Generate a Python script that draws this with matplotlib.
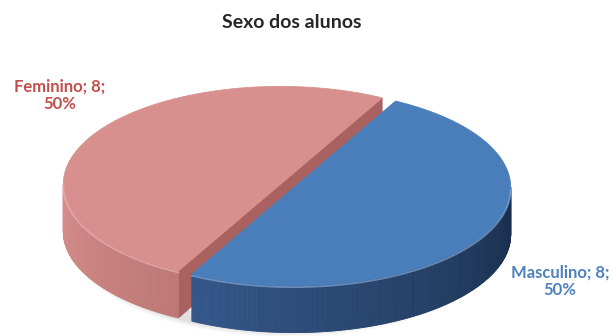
import numpy as np
import matplotlib.pyplot as plt
from matplotlib.patches import Polygon
from matplotlib.collections import PolyCollection

titulo = 'Sexo dos alunos'
categorias = ['Masculino', 'Feminino']
valores = [8, 8]

cor_topo = ['#4a7ebb', '#d8908e']
cor_lado_claro = [(0.28, 0.46, 0.72), (0.85, 0.57, 0.56)]
cor_lado_escuro = [(0.10, 0.18, 0.30), (0.60, 0.34, 0.33)]
cor_corte = ['#2c4d7a', '#a9625f']
cor_brilho = ['#8fb8ea', '#efb9b7']
cor_texto = ['#4f81bd', '#c0504d']
pos_rotulo = [(560, 281), (60, 95)]

# geometria da pizza (em pixels da figura)
cx, cy, rx, ry, prof = 287, 186, 217, 98, 47
inicio = 62.0
explode = 0.035

plt.rcParams['font.family'] = ['Lato', 'DejaVu Sans']

fig = plt.figure(figsize=(6.13, 3.36), dpi=100)
ax = fig.add_axes([0, 0, 1, 1])
ax.set_xlim(0, 613)
ax.set_ylim(336, 0)
ax.axis('off')


def pt(t, ox, oy, z=0.0):
    """ponto da borda no angulo t (graus), deslocado por ox, oy e pela altura z"""
    r = np.radians(t)
    return cx + ox + rx * np.cos(r), cy + oy - ry * np.sin(r) + z


total = sum(valores)
fatias = []
a = inicio
for i, v in enumerate(valores):
    ang = 360.0 * v / total
    a0, a1 = a, a - ang  # sentido horario
    meio = np.radians((a0 + a1) / 2)
    ox = explode * rx * np.cos(meio)
    oy = -explode * ry * np.sin(meio)
    fatias.append((i, a1, a0, meio, ox, oy))
    a = a1

# sombra suave sob a pizza
t = np.linspace(180, 360, 200)
for k, al in [(6, 0.05), (4, 0.08), (2, 0.12)]:
    xs, ys = pt(t, 0, 0, prof + k)
    xs2, ys2 = pt(t[::-1], 0, 0, prof - 10)
    ax.add_patch(Polygon(np.column_stack([np.r_[xs, xs2], np.r_[ys, ys2]]),
                         closed=True, fc='#7f7f7f', ec='none', alpha=al, zorder=1))

# fatias de tras primeiro
for i, a1, a0, meio, ox, oy in sorted(fatias, key=lambda f: -np.sin(f[3])):
    z = 2 + (1 - np.sin(meio))
    centro = (cx + ox, cy + oy)

    # faces do corte voltadas para frente
    for aresta, normal in [(a0, a0 + 90), (a1, a1 - 90)]:
        if np.sin(np.radians(normal)) < 0:
            bx, by = pt(aresta, ox, oy)
            face = [centro, (bx, by), (bx, by + prof), (centro[0], centro[1] + prof)]
            ax.add_patch(Polygon(face, closed=True, fc=cor_corte[i], ec=cor_corte[i],
                                 lw=0.5, zorder=z))

    # parede lateral externa visivel, com sombreamento pelo angulo
    t = np.linspace(a1, a0, 400)
    quads, cores = [], []
    for ta, tb in zip(t[:-1], t[1:]):
        tm = (ta + tb) / 2
        if np.sin(np.radians(tm)) >= 0:
            continue
        xa, ya = pt(ta, ox, oy)
        xb, yb = pt(tb, ox, oy)
        quads.append([(xa, ya), (xb, yb), (xb, yb + prof), (xa, ya + prof)])
        f = ((tm % 360) - 180) / 180
        f = np.clip(f, 0, 1) ** 0.8
        c = np.array(cor_lado_claro[i]) * (1 - f) + np.array(cor_lado_escuro[i]) * f
        cores.append(c)
    if quads:
        ax.add_collection(PolyCollection(quads, facecolors=cores, edgecolors=cores,
                                         linewidths=0.6, zorder=z))

    # face superior
    xs, ys = pt(t, ox, oy)
    topo = np.vstack([[centro], np.column_stack([xs, ys])])
    ax.add_patch(Polygon(topo, closed=True, fc=cor_topo[i], ec=cor_topo[i],
                         lw=0.6, zorder=z + 0.1))

    # brilho na borda frontal
    frente = np.sin(np.radians(t)) < 0
    if frente.any():
        ax.plot(xs[frente], ys[frente] + 1.5, color=cor_brilho[i], lw=1.3,
                alpha=0.6, solid_capstyle='round', zorder=z + 0.2)

    # rotulo de dados
    pct = valores[i] / total
    ax.text(*pos_rotulo[i], f'{categorias[i]}; {valores[i]};\n{pct:.0%}',
            color=cor_texto[i], fontsize=12, fontweight='bold',
            ha='center', va='center', linespacing=1.1, zorder=10)

ax.text(292, 23, titulo, fontsize=14, fontweight='bold', color='#262626',
        ha='center', va='center')

fig.savefig('out.png', dpi=100)
